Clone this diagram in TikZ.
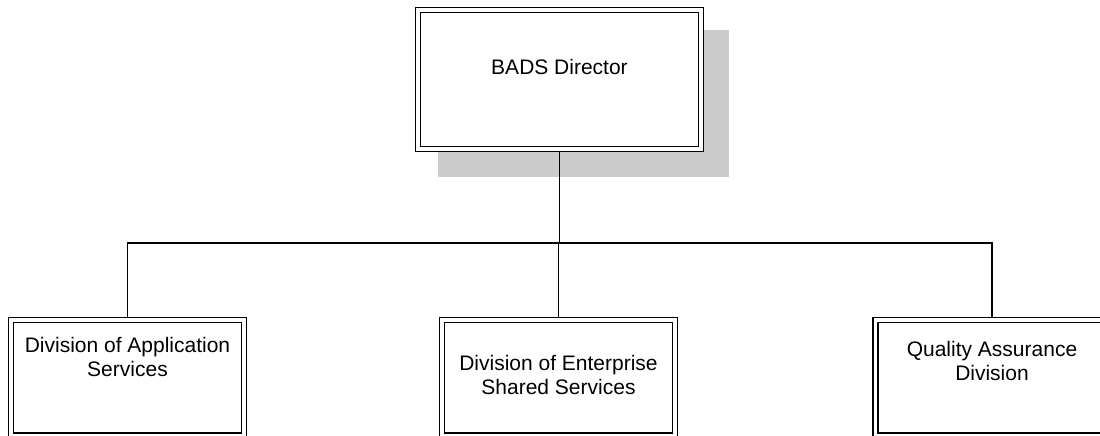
\documentclass[tikz,border=0pt]{standalone}
\usepackage{fontspec}
\setmainfont{Liberation Sans}
\usetikzlibrary{calc}
\pgfdeclarelayer{shadowlayer}
\pgfdeclarelayer{linklayer}
\pgfsetlayers{shadowlayer,linklayer,main}
\begin{document}
\begin{tikzpicture}[x=1pt,y=-1pt,
  unit/.style={draw=black, fill=white, line width=1.5pt, double=white,
    double distance=3.3pt, inner sep=0pt, rectangle},
  topunit/.style={unit, minimum width=283pt, minimum height=139pt},
  subunit/.style={unit, minimum width=233pt, minimum height=115.5pt},
  lbl/.style={align=center, inner sep=0pt, font=\fontsize{21}{24}\selectfont},
  link/.style={draw=black, line width=1.6pt},
  dropshadow/.style={fill=black!20, draw=none}]
  \useasboundingbox (0,0) rectangle (1100,436);

  % director box with its grey drop shadow
  \node[topunit] (dir) at (559.5,79.5) {};
  \begin{pgfonlayer}{shadowlayer}
    \path[dropshadow] ($(dir.north west)+(21,21)$) rectangle ($(dir.south east)+(27,27)$);
  \end{pgfonlayer}
  \node[lbl] (dirtext) at ($(dir.center)+(0,-13)$) {BADS Director};

  % divisions
  \node[subunit] (das) at (127.5,377.75) {};
  \node[subunit] (dess) at (558.5,377.75) {};
  \node[subunit] (qad) at (992,377.75) {};
  \node[lbl] (dastext) at ($(das.north)+(0,38)$) {Division of Application\\Services};
  \node[lbl] (desstext) at ($(dess.north)+(0,56)$) {Division of Enterprise\\Shared Services};
  \node[lbl] (qadtext) at ($(qad.north)+(0,42)$) {Quality Assurance\\Division};

  % reporting lines
  \coordinate (bus) at (560,243);
  \begin{pgfonlayer}{linklayer}
    \draw[link] (dir.center |- dir.south) -- (dir.center |- bus);
    \draw[link] (das.north) |- (bus) -| (qad.north);
    \draw[link] (dess.north) -- (dess.north |- bus);
  \end{pgfonlayer}
\end{tikzpicture}
\end{document}
